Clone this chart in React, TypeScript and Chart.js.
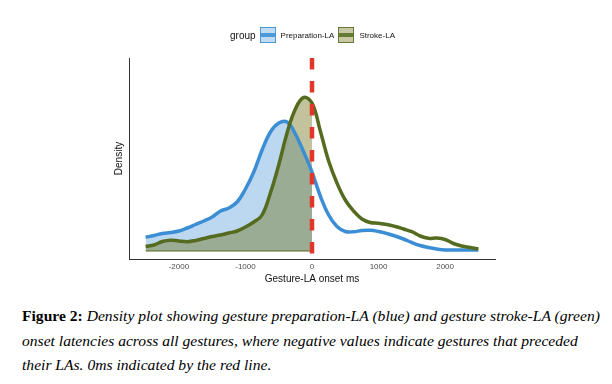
import React, { useEffect, useRef } from 'react';
import { Chart, registerables } from 'chart.js';

Chart.register(...registerables);

// Gesture-LA onset latency (ms) at which the densities were read
const onsetMs = [
  -2500, -2375, -2250, -2125, -2000, -1875, -1750, -1625, -1500, -1375, -1250,
  -1125, -1000, -875, -750, -625, -500, -375, -250, -125, 0, 125, 250, 375, 500,
  625, 750, 875, 1000, 1125, 1250, 1375, 1500, 1625, 1750, 1875, 2000, 2125,
  2250, 2375, 2500,
];

// Preparation-LA density
const preparationDensity = [
  0.0000685, 0.0000775, 0.0000875, 0.0000925, 0.0001, 0.000115, 0.0001325,
  0.00015, 0.00017, 0.0002, 0.000215, 0.000245, 0.00031, 0.000395, 0.000505,
  0.000595, 0.00064, 0.000645, 0.000585, 0.000495, 0.000395, 0.000275, 0.00018,
  0.0001225, 0.0000975, 0.0000965, 0.0001025, 0.0001035, 0.0000975, 0.0000875,
  0.000075, 0.00006, 0.0000425, 0.0000275, 0.0000175, 0.00001, 0.000005,
  0.000005, 0.000005, 0.000005, 0.000005,
];

// Stroke-LA density
const strokeDensity = [
  0.0000225, 0.00003, 0.0000475, 0.000054, 0.00005, 0.0000465, 0.0000525,
  0.0000625, 0.0000725, 0.00008, 0.00009, 0.0001, 0.00012, 0.000145, 0.00018,
  0.00029, 0.00043, 0.00059, 0.00071, 0.0007675, 0.00074, 0.0006, 0.00045,
  0.00034, 0.000255, 0.0002, 0.00016, 0.0001425, 0.0001385, 0.0001325,
  0.0001225, 0.00011, 0.0000965, 0.000075, 0.0000635, 0.000065, 0.0000575,
  0.0000375, 0.000025, 0.0000175, 0.00001,
];

const xTickValues = [-2000, -1000, 0, 1000, 2000];
const groupNames = ['Preparation-LA', 'Stroke-LA'];
const legendTitle = 'group';
const xAxisTitle = 'Gesture-LA onset ms';
const yAxisTitle = 'Density';
const referenceLineMs = 0;
const shadeUpToMs = 0;
const xRange = [-2750, 2750];
const yRange = [-0.00004, 0.000965];

const BLUE = '#3b8ed4';
const BLUE_FILL = 'rgba(59,142,212,0.35)';
const GREEN = '#556b1f';
const GREEN_FILL = 'rgba(110,110,20,0.42)';
const RED = '#e2362b';
const SANS = '"Liberation Sans", Arial, Helvetica, sans-serif';
const SERIF = '"Liberation Serif", "Times New Roman", Times, serif';

const toPoints = (ys: number[]) => onsetMs.map((x, i) => ({ x, y: ys[i] }));
const shaded = (ys: number[]) => toPoints(ys).filter((p) => p.x <= shadeUpToMs);

const refLinePlugin = {
  id: 'refLine',
  afterDatasetsDraw(chart: any) {
    const { ctx, chartArea, scales } = chart;
    const x = scales.x.getPixelForValue(referenceLineMs);
    ctx.save();
    ctx.strokeStyle = RED;
    ctx.lineWidth = 4.5;
    ctx.setLineDash([11.5, 11.5]);
    ctx.beginPath();
    ctx.moveTo(x, chartArea.top);
    ctx.lineTo(x, chartArea.bottom + 4);
    ctx.stroke();
    ctx.restore();
  },
};

function LegendKey({ color, fill }: { color: string; fill: string }) {
  return (
    <div
      style={{
        position: 'relative',
        width: 16,
        height: 16,
        boxSizing: 'border-box',
        border: `1px solid ${color}`,
        background: fill,
        opacity: 0.9,
      }}
    >
      <div
        style={{
          position: 'absolute',
          left: 0,
          right: 0,
          top: 5,
          height: 4,
          background: color,
        }}
      />
    </div>
  );
}

export default function App() {
  const canvasRef = useRef<HTMLCanvasElement | null>(null);

  useEffect(() => {
    if (!canvasRef.current) return;
    const chart = new Chart(canvasRef.current, {
      type: 'line',
      data: {
        datasets: [
          {
            label: groupNames[1],
            data: toPoints(strokeDensity),
            borderColor: GREEN,
            borderWidth: 3.5,
            fill: false,
            pointRadius: 0,
            tension: 0.4,
          },
          {
            label: groupNames[0],
            data: toPoints(preparationDensity),
            borderColor: BLUE,
            borderWidth: 3.5,
            fill: false,
            pointRadius: 0,
            tension: 0.4,
          },
          {
            label: 'baseline',
            data: [
              { x: onsetMs[0], y: 0 },
              { x: shadeUpToMs, y: 0 },
            ],
            borderColor: GREEN,
            borderWidth: 1,
            fill: false,
            pointRadius: 0,
          },
          {
            label: groupNames[1] + ' area',
            data: shaded(strokeDensity),
            borderWidth: 0,
            borderColor: 'rgba(0,0,0,0)',
            backgroundColor: GREEN_FILL,
            fill: 'origin',
            pointRadius: 0,
            tension: 0.4,
          },
          {
            label: groupNames[0] + ' area',
            data: shaded(preparationDensity),
            borderWidth: 0,
            borderColor: 'rgba(0,0,0,0)',
            backgroundColor: BLUE_FILL,
            fill: 'origin',
            pointRadius: 0,
            tension: 0.4,
          },
        ],
      },
      options: {
        animation: false,
        responsive: false,
        devicePixelRatio: 1,
        layout: { padding: { left: 105, right: 117, top: 58, bottom: 5 } },
        plugins: { legend: { display: false }, tooltip: { enabled: false } },
        scales: {
          x: {
            type: 'linear',
            min: xRange[0],
            max: xRange[1],
            afterBuildTicks: (scale: any) => {
              scale.ticks = xTickValues.map((v) => ({ value: v }));
            },
            afterFit: (scale: any) => {
              scale.height = 26;
            },
            grid: { display: false, drawTicks: false },
            border: { display: true, color: '#333', width: 1 },
            ticks: {
              padding: 3,
              color: '#4d4d4d',
              font: { family: SANS, size: 8 },
              maxRotation: 0,
              callback: (v: any) => String(v),
            },
            title: {
              display: true,
              text: xAxisTitle,
              color: '#111',
              font: { family: SANS, size: 10 },
              padding: { top: 0, bottom: 0 },
            },
          },
          y: {
            type: 'linear',
            min: yRange[0],
            max: yRange[1],
            afterFit: (scale: any) => {
              scale.width = 24;
            },
            grid: { display: false, drawTicks: false },
            border: { display: true, color: '#333', width: 1 },
            ticks: { display: false },
            title: {
              display: true,
              text: yAxisTitle,
              color: '#111',
              font: { family: SANS, size: 10 },
              padding: { top: 8, bottom: 0 },
            },
          },
        },
      },
      plugins: [refLinePlugin],
    } as any);
    return () => chart.destroy();
  }, []);

  return (
    <div
      style={{
        position: 'absolute',
        left: 0,
        top: 0,
        width: 612,
        height: 384,
        background: '#fff',
        overflow: 'hidden',
      }}
    >
      <canvas
        ref={canvasRef}
        width={612}
        height={290}
        style={{ position: 'absolute', left: 0, top: 0, width: 612, height: 290 }}
      />
      <div
        style={{
          position: 'absolute',
          left: 230,
          top: 27,
          height: 16,
          display: 'flex',
          alignItems: 'center',
          fontFamily: SANS,
          color: '#111',
          whiteSpace: 'nowrap',
        }}
      >
        <span style={{ fontSize: 10, marginRight: 4 }}>{legendTitle}</span>
        <LegendKey color={BLUE} fill="rgba(59,142,212,0.35)" />
        <span style={{ fontSize: 8, marginLeft: 5, marginRight: 4 }}>{groupNames[0]}</span>
        <LegendKey color={GREEN} fill="rgba(110,110,20,0.42)" />
        <span style={{ fontSize: 8, marginLeft: 5 }}>{groupNames[1]}</span>
      </div>
      <div
        style={{
          position: 'absolute',
          left: 22,
          top: 304,
          fontFamily: SERIF,
          fontSize: 15.6,
          lineHeight: '24.5px',
          color: '#000',
          whiteSpace: 'nowrap',
        }}
      >
        <b>Figure 2:</b>{' '}
        <i>Density plot showing gesture preparation-LA (blue) and gesture stroke-LA (green)</i>
        <br />
        <i>onset latencies across all gestures, where negative values indicate gestures that preceded</i>
        <br />
        <i>their LAs. 0ms indicated by the red line.</i>
      </div>
    </div>
  );
}
